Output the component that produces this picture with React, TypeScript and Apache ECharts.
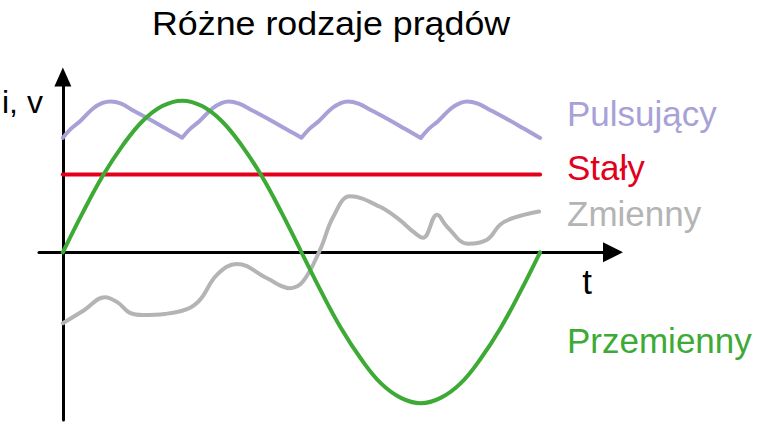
import { useEffect, useRef } from "react";
import * as echarts from "echarts";

const TITLE = "Różne rodzaje prądów";
const Y_AXIS_NAME = "i, v";
const X_AXIS_NAME = "t";
const SERIES_NAMES = ["Pulsujący", "Stały", "Zmienny", "Przemienny"];
const SERIES_COLORS = ["#a8a1d8", "#e3001b", "#b4b4b4", "#3daa35"];

// x in degrees of one period (0..360), y in arbitrary units (amplitude ~10)
const pulsujacy: [number, number | string][] = [
  [0, 7.52], [6, 8.1], [13, 8.6], [23, 9.45], [30, 9.8], [36, 9.9], [44, 9.75], [53, 9.3], [66, 8.7], [78, 8.1], [90, 7.52],
  [90, "-"],
  [90, 7.52], [96, 8.1], [103, 8.6], [113, 9.45], [120, 9.8], [125, 9.9], [133, 9.75], [143, 9.3], [156, 8.7], [168, 8.1], [180, 7.52],
  [180, "-"],
  [180, 7.52], [186, 8.1], [193, 8.6], [203, 9.45], [210, 9.8], [215, 9.9], [223, 9.75], [233, 9.3], [246, 8.7], [258, 8.1], [270, 7.5],
  [270, "-"],
  [270, 7.5], [276, 8.1], [283, 8.6], [293, 9.45], [300, 9.8], [305, 9.9], [313, 9.75], [323, 9.3], [336, 8.7], [348, 8.1], [360, 7.5],
];

const staly: [number, number][] = [
  [0, 5.1], [360, 5.1],
];

const zmienny: [number, number][] = [
  [0, -4.65], [16, -3.8], [31.7, -2.94], [41.5, -3.3], [50.6, -3.97], [60.4, -4.11], [77, -4.04], [93.6, -3.73],
  [103.4, -3.12], [116.2, -1.48], [131.3, -0.76], [154, -1.7], [171.3, -2.35], [181.1, -1.92], [194, 0.16],
  [204, 2.33], [216.6, 3.67], [239.2, 2.99], [254, 2.13], [264, 1.37], [271.7, 0.95], [282.3, 2.46], [289.8, 1.68],
  [305.7, 0.56], [320, 0.82], [329.8, 1.81], [339.8, 2.26], [359.2, 2.68],
];

const przemienny: [number, number][] = [
  [0, 0], [15, 2.6], [30, 5.0], [45, 7.0], [60, 8.6], [75, 9.6], [90, 9.95], [105, 9.6], [120, 8.6], [135, 7.0],
  [150, 5.0], [165, 2.6], [180, 0], [195, -2.6], [210, -5.0], [225, -7.0], [240, -8.6], [255, -9.55], [270, -9.9],
  [285, -9.55], [300, -8.6], [315, -7.0], [330, -5.0], [345, -2.6], [360, 0],
];

const X_MIN = -18;
const X_MAX = 415;
const Y_MIN = -11;
const Y_MAX = 11.5;

const FONT_FAMILY = '"Liberation Sans", Arial, sans-serif';

export default function App() {
  const ref = useRef<HTMLDivElement>(null);

  useEffect(() => {
    if (!ref.current) return;
    const chart = echarts.init(ref.current, null, { renderer: "svg" });

    const axisLine = (size: number[]) => ({
      show: true,
      onZero: true,
      symbol: ["none", "triangle"],
      symbolSize: size,
      lineStyle: { color: "#000", width: 3 },
    });

    const labelText = (text: string, x: number, y: number, color: string, size = 35, align = "left") => ({
      type: "text",
      x,
      y,
      silent: true,
      style: {
        text,
        fill: color,
        font: `${size}px ${FONT_FAMILY}`,
        align,
        verticalAlign: "middle",
      },
    });

    const seriesData = [pulsujacy, staly, zmienny, przemienny];
    const smoothing = [0.4, false, 0.4, 0.4];

    chart.setOption({
      animation: false,
      backgroundColor: "#fff",
      grid: { left: 39, right: 151, top: 77, bottom: 9, containLabel: false },
      xAxis: {
        type: "value",
        min: X_MIN,
        max: X_MAX,
        axisLine: axisLine([20, 20]),
        axisTick: { show: false },
        axisLabel: { show: false },
        splitLine: { show: false },
      },
      yAxis: {
        type: "value",
        min: Y_MIN,
        max: Y_MAX,
        axisLine: axisLine([17, 19]),
        axisTick: { show: false },
        axisLabel: { show: false },
        splitLine: { show: false },
      },
      series: SERIES_NAMES.map((name, i) => ({
        name,
        type: "line",
        data: seriesData[i],
        smooth: smoothing[i],
        showSymbol: false,
        symbol: "none",
        connectNulls: false,
        lineStyle: { color: SERIES_COLORS[i], width: 4, cap: "round", join: "round" },
        itemStyle: { color: SERIES_COLORS[i] },
        z: i === 3 ? 4 : 3,
      })),
      graphic: [
        {
          type: "text",
          x: 152,
          y: 23.5,
          scaleX: 1.085,
          silent: true,
          style: {
            text: TITLE,
            fill: "#000",
            font: `33px ${FONT_FAMILY}`,
            align: "left",
            verticalAlign: "middle",
          },
        },
        labelText(Y_AXIS_NAME, 2, 102, "#000", 32),
        labelText(X_AXIS_NAME, 587, 281, "#000", 35, "center"),
        labelText(SERIES_NAMES[0], 567, 113, SERIES_COLORS[0]),
        labelText(SERIES_NAMES[1], 567, 167, SERIES_COLORS[1]),
        labelText(SERIES_NAMES[2], 567, 213, SERIES_COLORS[2]),
        labelText(SERIES_NAMES[3], 567, 340, SERIES_COLORS[3]),
      ],
    });

    return () => chart.dispose();
  }, []);

  return (
    <div
      ref={ref}
      style={{ position: "fixed", left: 0, top: 0, width: 764, height: 429, background: "#fff" }}
    />
  );
}
